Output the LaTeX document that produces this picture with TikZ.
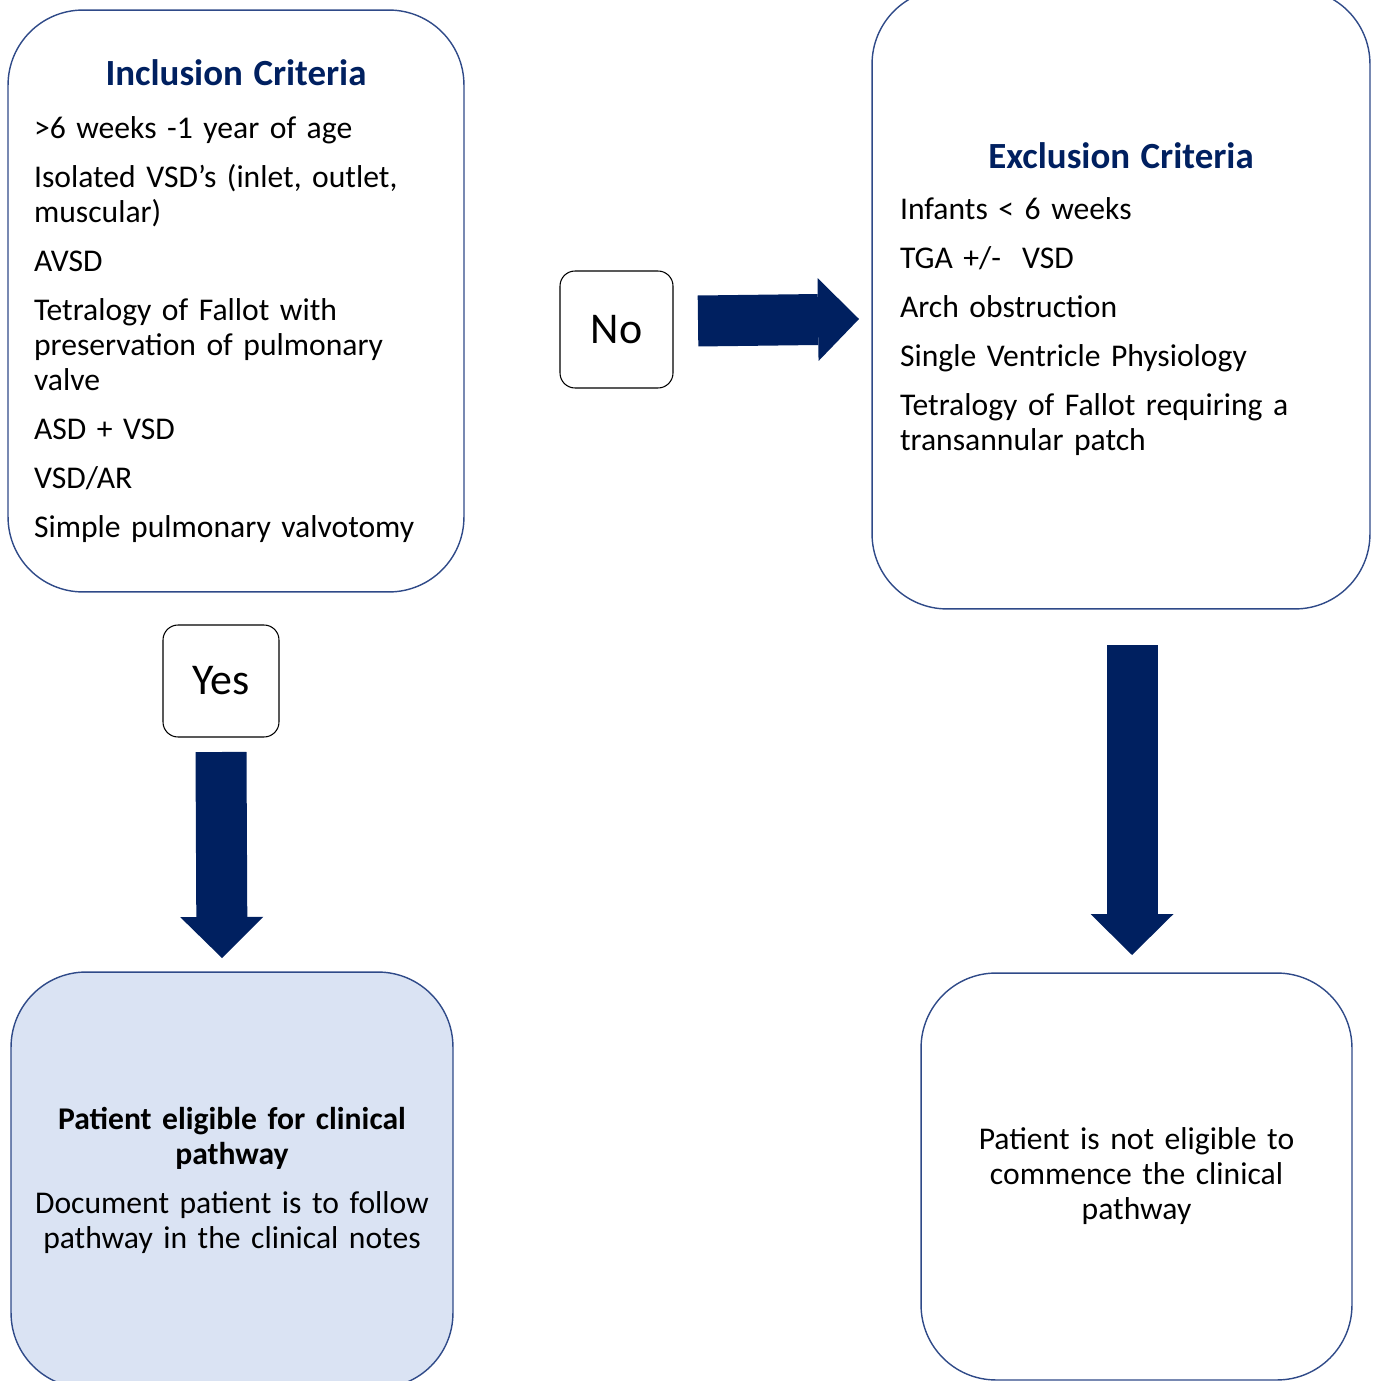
\documentclass[tikz,border=0pt]{standalone}
\usepackage{fontspec}
\setmainfont{Carlito}
\usetikzlibrary{arrows.meta,positioning}
\definecolor{navy}{HTML}{002060}
\definecolor{boxline}{HTML}{2F4A88}
\definecolor{paleblue}{HTML}{DAE3F3}
\newcommand{\bodyfont}{\fontsize{18}{19.9}\selectfont}
\newcommand{\headfont}{\fontsize{21}{24}\selectfont\bfseries\color{navy}}
\newcommand{\itemgap}{\\[8pt]}

\begin{document}
\begin{tikzpicture}[x=0.02cm, y=-0.02cm,
    critbox/.style={draw=boxline, line width=0.8pt, rounded corners=1.5cm,
      inner sep=0pt, font=\bodyfont},
    answerbox/.style={draw=black, line width=0.6pt, rounded corners=0.3cm,
      inner sep=0pt, font=\fontsize{25}{30}\selectfont},
    blockarrow/.style={draw=navy, line width=1.02cm,
      -{Triangle[length=0.82cm, width=1.66cm, line width=0pt]}}]
      \useasboundingbox (0,0) rectangle (1378,1381);
      \clip (0,0) rectangle (1378,1381);

      % Criteria boxes
      \node[critbox, align=left, text width=8.08cm,
        minimum width=9.12cm, minimum height=11.64cm] (inbox) at (236,301)
        {\makebox[\linewidth]{\headfont Inclusion Criteria}\\[10.7pt]
         >6 weeks -1 year of age\itemgap
         Isolated VSD’s (inlet, outlet,\\ muscular)\itemgap
         AVSD\itemgap
         Tetralogy of Fallot with\\ preservation of pulmonary\\ valve\itemgap
         ASD + VSD\itemgap
         VSD/AR\itemgap
         Simple pulmonary valvotomy};
      \node[critbox, align=left, text width=8.84cm,
        minimum width=9.96cm, minimum height=12.4cm] (exbox) at (1121,299)
        {\makebox[\linewidth]{\headfont Exclusion Criteria}\\[9pt]
         Infants < 6 weeks\itemgap
         TGA +/-~~VSD\itemgap
         Arch obstruction\itemgap
         Single Ventricle Physiology\itemgap
         Tetralogy of Fallot requiring a\\ transannular patch};

      % Yes / No labels
      \node[answerbox, minimum width=2.26cm, minimum height=2.34cm] (nolabel) at (616.5,329.5) {No};
      \node[answerbox, minimum width=2.32cm, minimum height=2.24cm] (yeslabel) at (221,681) {Yes};

      % Outcome boxes
      \node[critbox, fill=paleblue, align=center, text width=8.4cm,
        minimum width=8.84cm, minimum height=8.32cm] (okbox) at (232,1180)
        {\textbf{Patient eligible for clinical\\ pathway}\\[8pt]
         Document patient is to follow\\ pathway in the clinical notes};
      \node[critbox, align=center, text width=8.2cm,
        minimum width=8.62cm, minimum height=8.14cm] (notokbox) at (1136.5,1176.5)
        {Patient is not eligible to\\ commence the clinical\\ pathway};

      % Block arrows
      \coordinate (noS) at (698,321);
      \coordinate (noE) at (859,319);
      \coordinate (yesS) at (221,752);
      \coordinate (yesE) at (222,958);
      \coordinate (exS) at (1132,645);
      \coordinate (exE) at (1132,955);
      \draw[blockarrow] (noS) -- (noE);
      \draw[blockarrow] (yesS) -- (yesE);
      \draw[blockarrow] (exS) -- (exE);
\end{tikzpicture}
\end{document}
